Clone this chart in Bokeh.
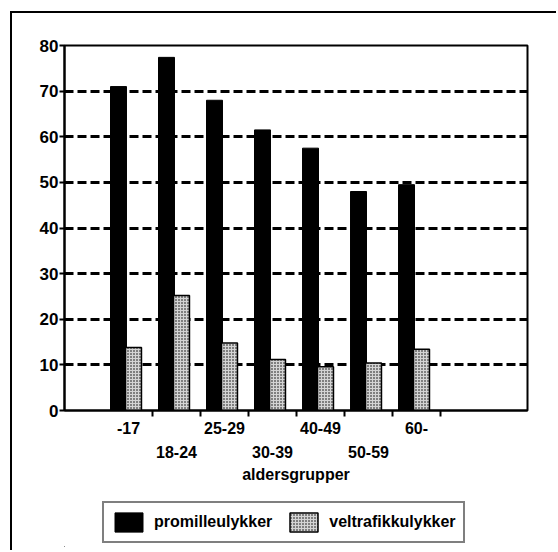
from bokeh.plotting import figure
from bokeh.models import (ColumnDataSource, Range1d, FixedTicker, LinearAxis, Legend, LegendItem)
from bokeh.layouts import column
from bokeh.transform import dodge
from bokeh.embed import file_html
from bokeh.resources import INLINE

categories = ["-17", "18-24", "25-29", "30-39", "40-49", "50-59", "60-"]
promilleulykker = [71, 77.4, 68, 61.5, 57.5, 48, 49.5]
veitrafikkulykker = [13.8, 25.2, 14.8, 11.2, 9.6, 10.4, 13.4]
y_ticks = [0, 10, 20, 30, 40, 50, 60, 70, 80]
x_title = "aldersgrupper"
series_names = ["promilleulykker", "veltrafikkulykker"]

idx = list(range(len(categories)))
src = ColumnDataSource(dict(x=idx, p=promilleulykker, v=veitrafikkulykker))

FONT = "Liberation Sans"
bar_w = 0.333
black_style = dict(fill_color="black", line_color="black", line_width=1)
stipple_style = dict(fill_color="#d4d4d4", line_color="black", line_width=1.5,
                     hatch_pattern="dot", hatch_color="black", hatch_scale=3, hatch_weight=1.5)

p = figure(width=535, height=484, output_backend="svg", toolbar_location=None,
           x_range=Range1d(-1.333, 8.3125), y_range=Range1d(0, 80),
           min_border_left=52, min_border_top=32, min_border_right=20, min_border_bottom=87)
p.background_fill_color = "white"
p.border_fill_color = "white"
p.outline_line_color = "black"
p.outline_line_width = 2

# grid
p.xgrid.visible = False
p.ygrid.ticker = FixedTicker(ticks=y_ticks[1:-1])
p.ygrid.grid_line_color = "black"
p.ygrid.grid_line_width = 3
p.ygrid.grid_line_dash = "9 4"

# y axis
yax = p.yaxis[0]
yax.ticker = FixedTicker(ticks=y_ticks)
yax.axis_line_width = 2
yax.major_tick_line_width = 2
yax.major_tick_in = 0
yax.major_tick_out = 5
yax.minor_tick_line_color = None
yax.major_label_standoff = 1
yax.major_label_text_font = FONT
yax.major_label_text_font_style = "bold"
yax.major_label_text_font_size = "17px"
yax.major_label_text_color = "black"

# main x axis: ticks at group boundaries, no labels
xax = p.xaxis[0]
xax.ticker = FixedTicker(ticks=[i + 0.5 for i in idx])
xax.major_label_overrides = {i + 0.5: "" for i in idx}
xax.major_label_text_font_size = "1px"
xax.major_label_standoff = 0
xax.axis_line_width = 2
xax.major_tick_line_width = 2
xax.major_tick_in = 0
xax.major_tick_out = 6
xax.minor_tick_line_color = None

def label_axis(which, standoff, title=None):
    ax = LinearAxis(ticker=FixedTicker(ticks=which),
                    major_label_overrides={i: categories[i] for i in which})
    ax.axis_line_color = None
    ax.major_tick_line_color = None
    ax.minor_tick_line_color = None
    ax.major_tick_in = 0
    ax.major_tick_out = 0
    ax.major_label_standoff = standoff
    ax.major_label_text_font = FONT
    ax.major_label_text_font_style = "bold"
    ax.major_label_text_font_size = "16px"
    ax.major_label_text_color = "black"
    if title:
        ax.axis_label = title
        ax.axis_label_text_font = FONT
        ax.axis_label_text_font_style = "bold"
        ax.axis_label_text_font_size = "16px"
        ax.axis_label_standoff = 5
        ax.axis_label_text_color = "black"
    return ax

p.add_layout(label_axis([i for i in idx if i % 2 == 0], 5), "below")
p.add_layout(label_axis([i for i in idx if i % 2 == 1], 9, x_title), "below")

p.vbar(x=dodge("x", -0.208), top="p", width=bar_w, source=src, **black_style)
p.vbar(x=dodge("x", 0.104), top="v", width=bar_w, source=src, **stipple_style)

# legend strip below the chart (same series, same styles; its bars fall outside its view)
lg = figure(width=535, height=50, output_backend="svg", toolbar_location=None,
            x_axis_type=None, y_axis_type=None,
            x_range=Range1d(100, 101), y_range=Range1d(100, 101),
            min_border_left=52, min_border_right=20, min_border_top=0, min_border_bottom=0)
lg.outline_line_color = None
lg.background_fill_color = "white"
lg.border_fill_color = "white"
l1 = lg.vbar(x=dodge("x", -0.208), top="p", width=bar_w, source=src, **black_style)
l2 = lg.vbar(x=dodge("x", 0.104), top="v", width=bar_w, source=src, **stipple_style)

legend = Legend(items=[LegendItem(label=series_names[0], renderers=[l1]),
                       LegendItem(label=series_names[1], renderers=[l2])],
                orientation="horizontal", location=(38, 4))
legend.border_line_color = "black"
legend.border_line_width = 2
legend.background_fill_color = "white"
legend.background_fill_alpha = 1
legend.padding = 7
legend.margin = 0
legend.spacing = 14
legend.label_standoff = 8
legend.glyph_width = 35
legend.glyph_height = 24
legend.label_text_font = FONT
legend.label_text_font_style = "bold"
legend.label_text_font_size = "16px"
legend.label_text_color = "black"
lg.add_layout(legend, "center")

page = column(p, lg, spacing=0,
              styles={"margin-left": "10px", "margin-top": "11px",
                      "padding-right": "9px", "padding-bottom": "3px",
                      "border-left": "2px solid black", "border-top": "2px solid black"})

open("out.html", "w").write(file_html(page, INLINE))
